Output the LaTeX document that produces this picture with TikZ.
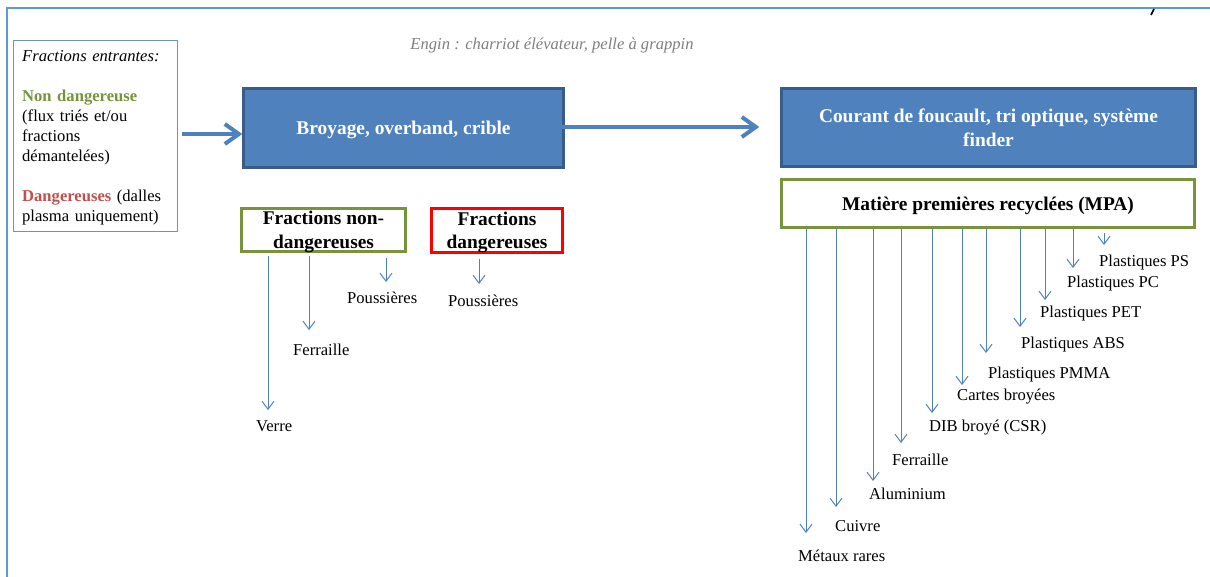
\documentclass[tikz,border=0pt]{standalone}
\usepackage{fontspec}
\setmainfont{Liberation Serif}
\usetikzlibrary{arrows.meta}
\definecolor{boxblue}{HTML}{4F81BD}
\definecolor{boxedge}{HTML}{385D8A}
\definecolor{olivegr}{HTML}{77933C}
\definecolor{redtxt}{HTML}{C0504D}
\definecolor{framebl}{HTML}{5B9BD5}
\definecolor{linkbl}{HTML}{4F81BD}
\definecolor{engingray}{HTML}{7F7F7F}
\newcommand{\lblfont}{\fontsize{16.6}{20}\selectfont}
\newcommand{\hdrfont}{\fontsize{19.4}{23.5}\selectfont\bfseries}
\begin{document}
\begin{tikzpicture}[x=1pt,y=-1pt,
  procbox/.style={draw=boxedge, line width=2.5pt, fill=boxblue, text=white, font=\hdrfont, align=center, inner sep=0pt, text depth=0pt},
  outbox/.style={draw=olivegr, line width=3pt, font=\hdrfont, align=center, inner sep=0pt, text depth=0pt},
  dangbox/.style={draw=red, line width=3pt, font=\hdrfont, align=center, inner sep=0pt, text depth=0pt},
  bigarrow/.style={draw=linkbl, line width=4pt, -{Straight Barb[length=14pt,width=20pt]}},
  thinarrow/.style={draw=linkbl, line width=1pt, -{Straight Barb[length=8pt,width=12pt]}},
  lbl/.style={font=\lblfont, anchor=west, inner sep=0pt}]
\useasboundingbox (0,0) rectangle (1210,576);
% outer frame (partly visible)
\draw[framebl, line width=2pt] (7,580) -- (7,8) -- (1214,8);
\draw[black, line width=1.6pt] (1151,15) -- (1154,9);
% input box
\node[draw=boxblue!85, line width=1.2pt, minimum width=164pt, minimum height=191pt, inner sep=0pt] (inbox) at (95.5,136) {};
\node[anchor=north west, inner sep=0pt, text width=155pt, align=left, font=\lblfont] (intext) at (22,50.5)
  {\textit{Fractions entrantes:}\\[20pt]
   {\color{olivegr}\bfseries Non dangereuse}\\
   (flux triés et/ou\\
   fractions\\
   démantelées)\\[20pt]
   {\color{redtxt}\bfseries Dangereuses} (dalles\\
   plasma uniquement)};
% caption
\node[font=\lblfont\itshape, text=engingray, inner sep=0pt] (engin) at (552,45) {Engin : charriot élévateur, pelle à grappin};
% process boxes
\node[procbox, minimum width=320pt, minimum height=79pt] (broy) at (403.5,128) {Broyage, overband, crible};
\node[procbox, minimum width=414pt, minimum height=78pt] (cour) at (988.5,127.5) {Courant de foucault, tri optique, système\\finder};
\node[outbox, minimum width=413pt, minimum height=48pt] (mpa) at (988,203.5) {Matière premières recyclées (MPA)};
\node[outbox, minimum width=164pt, minimum height=43pt] (fnd) at (323.5,230) {Fractions non-\\dangereuses};
\node[dangbox, minimum width=131pt, minimum height=44pt] (fd) at (497,230.5) {Fractions\\dangereuses};
% main arrows
\draw[bigarrow, shorten <=3.5pt] ([yshift=2pt]inbox.east) -- ([yshift=2pt]inbox.east -| broy.west);
\draw[bigarrow, shorten >=21pt] ([xshift=-40pt,yshift=1pt]broy.east) -- ([yshift=1pt]broy.east -| cour.west);
% left outputs
\coordinate (eV) at (268,410);
\coordinate (eF) at (309,330);
\coordinate (eP1) at (386,282);
\coordinate (eP2) at (479,284);
\draw[thinarrow, shorten <=3pt] (fnd.south -| eV) -- (eV);
\draw[thinarrow, shorten <=3pt] (fnd.south -| eF) -- (eF);
\draw[thinarrow, shorten <=5pt] (fnd.south -| eP1) -- (eP1);
\draw[thinarrow, shorten <=4.5pt] (fd.south -| eP2) -- (eP2);
\node[lbl] (lV) at (256,426) {Verre};
\node[lbl] (lF) at (293,350) {Ferraille};
\node[lbl] (lP1) at (347,298) {Poussières};
\node[lbl] (lP2) at (448,301) {Poussières};
% right outputs
\coordinate (r1) at (806,533);
\coordinate (r2) at (836,507);
\coordinate (r3) at (873,481);
\coordinate (r4) at (901,443);
\coordinate (r5) at (932,413);
\coordinate (r6) at (962,385);
\coordinate (r7) at (986,353);
\coordinate (r8) at (1020,327);
\coordinate (r9) at (1045,300);
\coordinate (r10) at (1073,268);
\coordinate (r11) at (1104,245);
\foreach \c in {r1,r2,r3,r4,r5,r6,r7,r8,r9,r10}
  \draw[thinarrow] (mpa.south -| \c) -- (\c);
\draw[thinarrow, shorten <=4pt] (mpa.south -| r11) -- (r11);
\node[lbl] (l1) at (798,556) {Métaux rares};
\node[lbl] (l2) at (835,526) {Cuivre};
\node[lbl] (l3) at (869,494) {Aluminium};
\node[lbl] (l4) at (892,460) {Ferraille};
\node[lbl] (l5) at (929,428) {DIB broyé (CSR)};
\node[lbl] (l6) at (957,397) {Cartes broyées};
\node[lbl] (l7) at (988,375) {Plastiques PMMA};
\node[lbl] (l8) at (1021,345) {Plastiques ABS};
\node[lbl] (l9) at (1040,314) {Plastiques PET};
\node[lbl] (l10) at (1067,284) {Plastiques PC};
\node[lbl] (l11) at (1099,263) {Plastiques PS};
\end{tikzpicture}
\end{document}
